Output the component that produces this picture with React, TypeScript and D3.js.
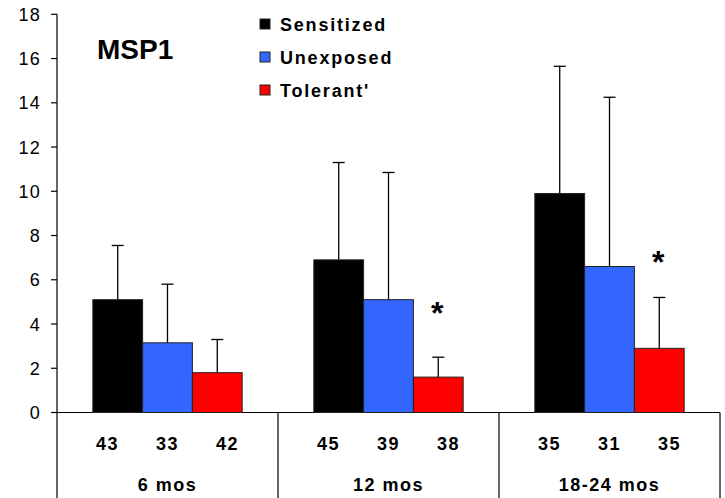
import React from "react";
import * as d3 from "d3";

// Antibody response to MSP1 by age group and exposure status
const groups = ["6 mos", "12 mos", "18-24 mos"];
const seriesNames = ["Sensitized", "Unexposed", "Tolerant'"];
const seriesColors = ["#000000", "#3366FF", "#FF0000"];

const sensitizedMean = [5.1, 6.9, 9.9];
const sensitizedSD = [2.45, 4.4, 5.75];
const unexposedMean = [3.15, 5.1, 6.6];
const unexposedSD = [2.65, 5.75, 7.65];
const tolerantMean = [1.8, 1.6, 2.9];
const tolerantSD = [1.5, 0.9, 2.3];

// sample sizes per bar
const sensitizedN = [43, 45, 35];
const unexposedN = [33, 39, 31];
const tolerantN = [42, 38, 35];

// significance markers (group index, value level of the asterisk)
const significantGroups = [1, 2];
const starLevels = [4.6, 6.9];

const yTicks = [0, 2, 4, 6, 8, 10, 12, 14, 16, 18];

const means = [sensitizedMean, unexposedMean, tolerantMean];
const sds = [sensitizedSD, unexposedSD, tolerantSD];
const counts = [sensitizedN, unexposedN, tolerantN];

const W = 725;
const H = 498;
const left = 57;
const right = 720;
const top = 14.3;
const bottom = 412.5;
const FONT = "Arial, 'Liberation Sans', Helvetica, sans-serif";

export default function App() {
  const y = d3.scaleLinear().domain([0, 18]).range([bottom, top]);
  const x0 = d3.scaleBand<string>().domain(groups).range([left, right]).padding(0);
  const gw = x0.bandwidth();
  const x1 = d3
    .scaleBand<string>()
    .domain(seriesNames)
    .range([0, gw])
    .paddingInner(0)
    .paddingOuter(0.72);
  const xn = d3.scalePoint<string>().domain(seriesNames).range([0, gw]).padding(0.84);

  return (
    <svg
      width={W}
      height={H}
      style={{ position: "absolute", left: 0, top: 0, background: "#fff" }}
      fontFamily={FONT}
    >
      <rect width={W} height={H} fill="#fff" />

      {/* y axis */}
      <line x1={left} x2={left} y1={top} y2={H} stroke="#000" strokeWidth={1.2} />
      {yTicks.map((t) => (
        <g key={t}>
          <line x1={left - 6} x2={left} y1={y(t)} y2={y(t)} stroke="#000" strokeWidth={1.2} />
          <text
            x={41}
            y={y(t) + 6.5}
            textAnchor="end"
            fontSize={18}
            letterSpacing={1.2}
            fill="#000"
          >
            {t}
          </text>
        </g>
      ))}

      {/* x axis and table grid */}
      <line x1={left} x2={right} y1={bottom} y2={bottom} stroke="#000" strokeWidth={1.2} />
      {groups.map((g) => (
        <line
          key={g}
          x1={(x0(g) as number) + gw}
          x2={(x0(g) as number) + gw}
          y1={bottom}
          y2={H}
          stroke="#000"
          strokeWidth={1.2}
        />
      ))}

      {/* bars with error bars */}
      {groups.map((g, gi) => (
        <g key={g} transform={`translate(${x0(g)},0)`}>
          {seriesNames.map((s, si) => {
            const bx = x1(s) as number;
            const bw = x1.bandwidth();
            const v = means[si][gi];
            const e = v + sds[si][gi];
            const cx = bx + bw / 2;
            return (
              <g key={s}>
                <line x1={cx} x2={cx} y1={y(v)} y2={y(e)} stroke="#000" strokeWidth={1.3} />
                <line x1={cx - 6} x2={cx + 6} y1={y(e)} y2={y(e)} stroke="#000" strokeWidth={1.3} />
                <rect
                  x={bx}
                  y={y(v)}
                  width={bw}
                  height={y(0) - y(v)}
                  fill={seriesColors[si]}
                  stroke="#222"
                  strokeWidth={1}
                />
              </g>
            );
          })}
          {seriesNames.map((s, si) => (
            <text
              key={s}
              x={xn(s)}
              y={450}
              textAnchor="middle"
              fontSize={18}
              fontWeight="bold"
              letterSpacing={1.5}
              fill="#000"
            >
              {counts[si][gi]}
            </text>
          ))}
          <text
            x={gw / 2}
            y={491}
            textAnchor="middle"
            fontSize={18}
            fontWeight="bold"
            letterSpacing={1.5}
            fill="#000"
          >
            {g}
          </text>
        </g>
      ))}

      {/* significance asterisks over the tolerant bars */}
      {significantGroups.map((gi, k) => {
        const s = seriesNames[2];
        const cx = (x0(groups[gi]) as number) + (x1(s) as number) + x1.bandwidth() / 2;
        return (
          <text
            key={gi}
            x={cx - 1}
            y={y(starLevels[k]) + 13}
            textAnchor="middle"
            fontSize={32}
            fontWeight="bold"
            fill="#000"
          >
            *
          </text>
        );
      })}

      {/* title */}
      <text x={97} y={59} fontSize={28} fontWeight="bold" fill="#000">
        MSP1
      </text>

      {/* legend */}
      {seriesNames.map((s, si) => {
        const by = 31 + si * 33;
        return (
          <g key={s}>
            <rect
              x={260}
              y={by - 12}
              width={10}
              height={10}
              fill={seriesColors[si]}
              stroke="#222"
              strokeWidth={1}
            />
            <text
              x={280}
              y={by}
              fontSize={18}
              fontWeight="bold"
              letterSpacing={1.8}
              fill="#000"
            >
              {s}
            </text>
          </g>
        );
      })}
    </svg>
  );
}
